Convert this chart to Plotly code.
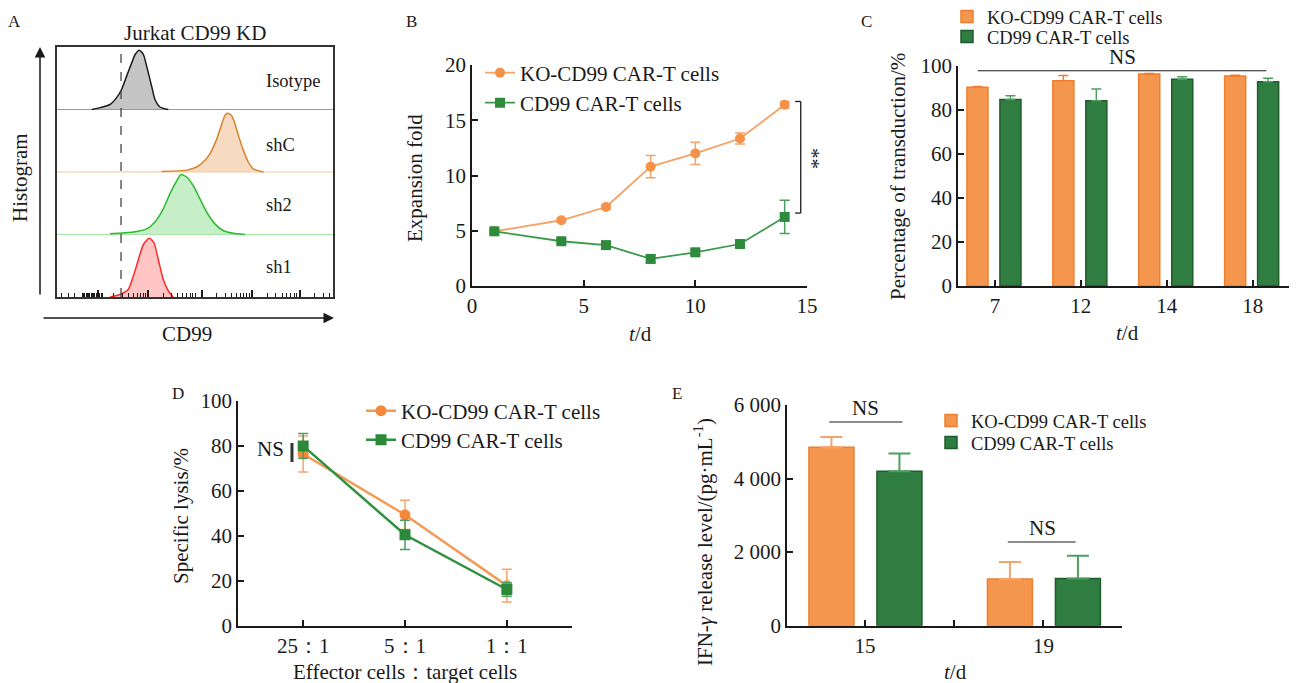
import plotly.graph_objects as go

W, H = 1297, 683
OFF = 8  # the page body has an 8 px margin; place everything relative to the viewport
def px(x): return (x - OFF) / W
def py(y): return 1 - (y - OFF) / H

FONT = "Liberation Serif, Times New Roman, serif"
INK = "#1a1a1a"
ORANGE = "#F5964F"; ORANGE_EDGE = "#EF7F2E"
GREEN = "#2F7D40"; GREEN_EDGE = "#1F5C2C"
LINE_OR = "#F5A266"; LINE_GR = "#3A9A4B"
ERR_OR = "#F3A46C"; ERR_GR = "#4C9F5C"

# ---------------- Panel A data (flow histograms) ----------------
hist_labels = ["Isotype", "shC", "sh2", "sh1"]
iso_x = [12.6, 15.6, 19.2, 21.6, 23.4, 25.2, 27.1, 28.3, 29.8, 31.3, 32.5, 34.3, 35.5, 37.3, 40.3]
iso_h = [0, 0.03, 0.08, 0.19, 0.32, 0.53, 0.75, 0.88, 0.95, 0.88, 0.69, 0.37, 0.16, 0.04, 0]
shc_x = [37.9, 47.0, 50.6, 53.0, 55.4, 57.9, 59.7, 60.9, 61.8, 63.3, 64.5, 65.7, 67.5, 69.3, 71.1, 74.8]
shc_h = [0.01, 0.03, 0.08, 0.16, 0.29, 0.53, 0.77, 0.91, 0.94, 0.90, 0.77, 0.59, 0.35, 0.16, 0.05, 0]
sh2_x = [19.2, 27.7, 32.5, 35.5, 38.5, 40.9, 43.4, 44.9, 47.0, 49.4, 51.8, 54.2, 57.2, 60.3, 63.9, 68.1]
sh2_h = [0.01, 0.04, 0.09, 0.20, 0.41, 0.65, 0.86, 0.96, 0.92, 0.78, 0.57, 0.36, 0.17, 0.06, 0.02, 0]
sh1_x = [19.2, 22.8, 25.8, 27.7, 29.5, 31.3, 33.4, 35.1, 36.7, 38.5, 40.3, 42.1]
sh1_h = [0, 0.04, 0.12, 0.34, 0.60, 0.84, 0.94, 0.87, 0.60, 0.28, 0.10, 0]
isotype_gate = 23.2

# ---------------- Panel B data ----------------
days_b = [1, 4, 6, 8, 10, 12, 14]
ko_b = [4.95, 5.95, 7.15, 10.8, 12.0, 13.35, 16.4]
ko_b_err = [0.15, 0.15, 0.2, 1.0, 1.0, 0.5, 0.3]
cd_b = [4.95, 4.05, 3.7, 2.45, 3.05, 3.8, 6.25]
cd_b_err = [0.15, 0.2, 0.2, 0.35, 0.2, 0.2, 1.5]

# ---------------- Panel C data ----------------
days_c = ["7", "12", "14", "18"]
ko_c = [90.2, 93.2, 96.2, 95.3]
ko_c_err = [0.4, 2.3, 0.3, 0.4]
cd_c = [84.7, 84.1, 93.9, 92.7]
cd_c_err = [1.7, 5.3, 1.1, 1.6]

# ---------------- Panel D data ----------------
ratios_d = ["25：1", "5：1", "1：1"]
ko_d = [76.3, 49.3, 17.8]
ko_d_err = [8.0, 6.5, 7.3]
cd_d = [79.9, 40.4, 16.1]
cd_d_err = [5.5, 6.5, 3.0]

# ---------------- Panel E data ----------------
days_e = ["15", "19"]
ko_e = [4850, 1270]
ko_e_err = [280, 460]
cd_e = [4200, 1280]
cd_e_err = [480, 620]

KO_NAME = "KO-CD99 CAR-T cells"
CD_NAME = "CD99 CAR-T cells"

fig = go.Figure()

# ---- Panel A traces ----
rows = [(hist_labels[0], iso_x, iso_h, 3, "#1a1a1a", "rgba(150,150,150,0.55)", "#9a9a9a"),
        (hist_labels[1], shc_x, shc_h, 2, "#D9822B", "rgba(240,190,140,0.55)", "#F2C9A0"),
        (hist_labels[2], sh2_x, sh2_h, 1, "#2DBB2D", "rgba(130,220,130,0.45)", "#A8E4A8"),
        (hist_labels[3], sh1_x, sh1_h, 0, "#FF2A2A", "rgba(255,140,140,0.5)", "rgba(0,0,0,0)")]
for name, xs, hs, base, lc, fc, bc in rows:
    fig.add_trace(go.Scatter(x=[0, 100], y=[base, base], mode="lines",
                             line=dict(color=bc, width=1), xaxis="x", yaxis="y",
                             showlegend=False, hoverinfo="skip"))
    fig.add_trace(go.Scatter(x=xs, y=[base + h for h in hs], mode="lines",
                             line=dict(color=lc, width=1.5, shape="spline", smoothing=0.6),
                             fill="tonexty", fillcolor=fc, xaxis="x", yaxis="y",
                             showlegend=False, name=name))

# ---- Panel B traces ----
fig.add_trace(go.Scatter(x=days_b, y=ko_b, name=KO_NAME, mode="lines+markers",
                         line=dict(color=LINE_OR, width=1.8),
                         marker=dict(symbol="circle", size=10, color="#F5924A"),
                         error_y=dict(type="data", array=ko_b_err, color=ERR_OR, thickness=1.5, width=5),
                         xaxis="x2", yaxis="y2", legend="legend"))
fig.add_trace(go.Scatter(x=days_b, y=cd_b, name=CD_NAME, mode="lines+markers",
                         line=dict(color=LINE_GR, width=1.8),
                         marker=dict(symbol="square", size=10, color="#2E8B3E"),
                         error_y=dict(type="data", array=cd_b_err, color=ERR_GR, thickness=1.5, width=5),
                         xaxis="x2", yaxis="y2", legend="legend2"))

# ---- Panel C traces ----
xc = list(range(len(days_c)))
fig.add_trace(go.Bar(x=xc, y=ko_c, name=KO_NAME, width=0.245, offset=-0.326,
                     marker=dict(color=ORANGE, line=dict(color=ORANGE_EDGE, width=1.5)),
                     error_y=dict(type="data", array=ko_c_err, arrayminus=[0] * len(ko_c), symmetric=False,
                                  color=ORANGE_EDGE, thickness=1.5, width=5),
                     xaxis="x3", yaxis="y3", legend="legend3"))
fig.add_trace(go.Bar(x=xc, y=cd_c, name=CD_NAME, width=0.245, offset=0.058,
                     marker=dict(color=GREEN, line=dict(color=GREEN_EDGE, width=1.5)),
                     error_y=dict(type="data", array=cd_c_err, arrayminus=[0] * len(cd_c), symmetric=False,
                                  color=ERR_GR, thickness=1.5, width=5),
                     xaxis="x3", yaxis="y3", legend="legend4"))

# ---- Panel D traces ----
xd = list(range(len(ratios_d)))
fig.add_trace(go.Scatter(x=xd, y=ko_d, name=KO_NAME, mode="lines+markers",
                         line=dict(color="#F39A55", width=2.5),
                         marker=dict(symbol="circle", size=11, color="#F5883A"),
                         error_y=dict(type="data", array=ko_d_err, color=ERR_OR, thickness=1.5, width=5),
                         xaxis="x4", yaxis="y4", legend="legend5"))
fig.add_trace(go.Scatter(x=xd, y=cd_d, name=CD_NAME, mode="lines+markers",
                         line=dict(color="#2F9140", width=2.5),
                         marker=dict(symbol="square", size=11, color="#2A8A3A"),
                         error_y=dict(type="data", array=cd_d_err, color=ERR_GR, thickness=1.5, width=5),
                         xaxis="x4", yaxis="y4", legend="legend6"))

# ---- Panel E traces ----
xe = list(range(len(days_e)))
fig.add_trace(go.Bar(x=xe, y=ko_e, name=KO_NAME, width=0.252, offset=-0.314,
                     marker=dict(color=ORANGE, line=dict(color=ORANGE_EDGE, width=1.5)),
                     error_y=dict(type="data", array=ko_e_err, arrayminus=[0] * len(ko_e), symmetric=False,
                                  color=ERR_OR, thickness=2, width=11),
                     xaxis="x5", yaxis="y5", legend="legend7"))
fig.add_trace(go.Bar(x=xe, y=cd_e, name=CD_NAME, width=0.252, offset=0.067,
                     marker=dict(color=GREEN, line=dict(color=GREEN_EDGE, width=1.5)),
                     error_y=dict(type="data", array=cd_e_err, arrayminus=[0] * len(cd_e), symmetric=False,
                                  color=ERR_GR, thickness=2, width=11),
                     xaxis="x5", yaxis="y5", legend="legend8"))

# ---------------- Axes ----------------
tf = dict(family=FONT, size=21, color=INK)
common = dict(showline=True, linecolor=INK, linewidth=1.5, ticks="inside", ticklen=6,
              tickcolor=INK, tickwidth=1.5, showgrid=False, zeroline=False, tickfont=tf, fixedrange=True)

# Panel A: log-like minor ticks along the bottom of the box
decades = [15.0, 33.0, 52.5, 70.7, 88.0]
log_steps = [0.301, 0.477, 0.602, 0.699, 0.778, 0.845, 0.903, 0.954]
minor_vals = [1.8, 4.0, 6.5] + [9.2 + 0.45 * k for k in range(17)]
for d in decades:
    minor_vals += [d + s * 18.0 for s in log_steps if d + s * 18.0 < 100]

fig.update_layout(
    xaxis=dict(domain=[px(57), px(333)], range=[0, 100], anchor="y", showline=True, mirror=True,
               linecolor="#333", linewidth=1.5, showgrid=False, zeroline=False, showticklabels=False,
               ticks="inside", tickvals=decades, ticklen=7, tickwidth=2, tickcolor=INK,
               minor=dict(tickvals=minor_vals, ticks="inside", ticklen=4, tickwidth=1, tickcolor=INK),
               fixedrange=True),
    yaxis=dict(domain=[py(297), py(47)], range=[0, 4], anchor="x", showline=True, mirror=True,
               linecolor="#333", linewidth=1.5, showgrid=False, zeroline=False, showticklabels=False,
               ticks="", fixedrange=True),
    xaxis2=dict(common, domain=[px(472), px(807)], range=[0, 15], anchor="y2",
                tickvals=[0, 5, 10, 15], ticklabelstandoff=0),
    yaxis2=dict(common, domain=[py(286), py(65)], range=[0, 20], anchor="x2",
                tickvals=[0, 5, 10, 15, 20]),
    xaxis3=dict(common, domain=[px(958), px(1293)], range=[-0.43, 3.47], anchor="y3",
                tickvals=xc, ticktext=days_c, ticklabelstandoff=0),
    yaxis3=dict(common, domain=[py(286), py(65.7)], range=[0, 100], anchor="x3",
                tickvals=[0, 20, 40, 60, 80, 100]),
    xaxis4=dict(common, domain=[px(238), px(572)], range=[-0.64, 2.64], anchor="y4",
                tickvals=xd, ticktext=ratios_d, ticklabelstandoff=0),
    yaxis4=dict(common, domain=[py(625.7), py(400.7)], range=[0, 100], anchor="x4",
                tickvals=[0, 20, 40, 60, 80, 100]),
    xaxis5=dict(common, domain=[px(787), px(1122)], range=[-0.437, 1.44], anchor="y5",
                tickvals=[0, 0.5, 1], ticktext=[days_e[0], "", days_e[1]], ticklabelstandoff=0),
    yaxis5=dict(common, domain=[py(625.7), py(405)], range=[0, 6000], anchor="x5",
                tickvals=[0, 2000, 4000, 6000], ticktext=["0", "2 000", "4 000", "6 000"]),
)

def leg(text_x, text_y, size):
    return dict(x=px(text_x - 42), y=py(text_y), xanchor="left", yanchor="middle",
                bgcolor="rgba(0,0,0,0)", borderwidth=0, tracegroupgap=0,
                font=dict(family=FONT, size=size, color=INK), itemclick=False, itemdoubleclick=False)

fig.update_layout(
    legend=leg(522, 73, 21), legend2=leg(522, 103, 21),
    legend3=leg(989, 17, 18.5), legend4=leg(989, 37, 18.5),
    legend5=leg(403, 411, 21), legend6=leg(403, 440, 21),
    legend7=leg(973, 421, 18.5), legend8=leg(973, 443, 18.5),
)

# ---------------- Shapes ----------------
shapes = []
# Panel A isotype gate
shapes.append(dict(type="line", xref="x", yref="y", x0=isotype_gate, x1=isotype_gate, y0=0, y1=3.95,
                   line=dict(color="#444", width=1.3, dash="dash")))
# Panel B significance bracket
shapes += [dict(type="line", xref="x2", yref="y2", x0=14.72, x1=14.72, y0=6.6, y1=16.7, line=dict(color=INK, width=1.3)),
           dict(type="line", xref="x2", yref="y2", x0=14.47, x1=14.72, y0=16.7, y1=16.7, line=dict(color=INK, width=1.3)),
           dict(type="line", xref="x2", yref="y2", x0=14.47, x1=14.72, y0=6.6, y1=6.6, line=dict(color=INK, width=1.3))]
# Panel C NS line
shapes.append(dict(type="line", xref="x3", yref="y3", x0=-0.2, x1=3.16, y0=97.7, y1=97.7, line=dict(color=INK, width=1.2)))
# Panel D NS bar
shapes.append(dict(type="line", xref="x4", yref="y4", x0=-0.11, x1=-0.11, y0=72.8, y1=81.2, line=dict(color="#333", width=3)))
# Panel E NS lines
shapes.append(dict(type="line", xref="x5", yref="y5", x0=-0.2, x1=0.21, y0=5538, y1=5538, line=dict(color=INK, width=1.2)))
shapes.append(dict(type="line", xref="x5", yref="y5", x0=0.80, x1=1.18, y0=2275, y1=2275, line=dict(color=INK, width=1.2)))
fig.update_layout(shapes=shapes)

# ---------------- Annotations ----------------
def txt(x, y, text, size=21, xanchor="center", yanchor="middle", angle=0, color=INK):
    return dict(x=px(x), y=py(y), xref="paper", yref="paper", text=text, showarrow=False,
                xanchor=xanchor, yanchor=yanchor, textangle=angle,
                font=dict(family=FONT, size=size, color=color))

ann = [
    txt(14, 22, "A", 17), txt(411, 22, "B", 17), txt(866, 22, "C", 17),
    txt(178, 393, "D", 17), txt(677, 393, "E", 17),
    # Panel A
    txt(195, 33, "Jurkat CD99 KD", 21),
    txt(264, 81, hist_labels[0], 18.5, xanchor="left"),
    txt(264, 145, hist_labels[1], 18.5, xanchor="left"),
    txt(264, 205, hist_labels[2], 18.5, xanchor="left"),
    txt(264, 267, hist_labels[3], 18.5, xanchor="left"),
    txt(20, 178, "Histogram", 21, angle=-90),
    txt(187, 334, "CD99", 21),
    # Panel B
    txt(415, 178, "Expansion fold", 21, angle=-90),
    txt(640, 334, "<i>t</i>/d", 21),
    txt(812, 158, "**", 21, angle=90),
    # Panel C
    txt(898, 177, "Percentage of transduction/%", 21, angle=-90),
    txt(1127, 333, "<i>t</i>/d", 21),
    txt(1122, 57, "NS", 21),
    # Panel D
    txt(181, 516, "Specific lysis/%", 21, angle=-90),
    txt(405, 672, "Effector cells：target cells", 21),
    txt(286, 449, "NS", 21, xanchor="right"),
    # Panel E
    txt(703, 542, "IFN-<i>γ</i> release level/(pg·mL<sup>-1</sup>)", 21, angle=-90),
    txt(955, 672, "<i>t</i>/d", 21),
    txt(865, 408, "NS", 21),
    txt(1042, 528, "NS", 21),
]
# axis arrows of panel A
ann.append(dict(x=px(40), y=py(47), xref="paper", yref="paper", ax=0, ay=249, axref="pixel", ayref="pixel",
                showarrow=True, arrowhead=2, arrowsize=1.4, arrowwidth=1.5, arrowcolor=INK, text=""))
ann.append(dict(x=px(334), y=py(318), xref="paper", yref="paper", ax=-292, ay=0, axref="pixel", ayref="pixel",
                showarrow=True, arrowhead=2, arrowsize=1.4, arrowwidth=1.5, arrowcolor=INK, text=""))
fig.update_layout(annotations=ann)

fig.update_layout(width=W, height=H, margin=dict(l=0, r=0, t=0, b=0, pad=0, autoexpand=False),
                  paper_bgcolor="white", plot_bgcolor="rgba(0,0,0,0)",
                  font=dict(family=FONT, size=21, color=INK), hovermode=False)

fig.write_html("out.html")
